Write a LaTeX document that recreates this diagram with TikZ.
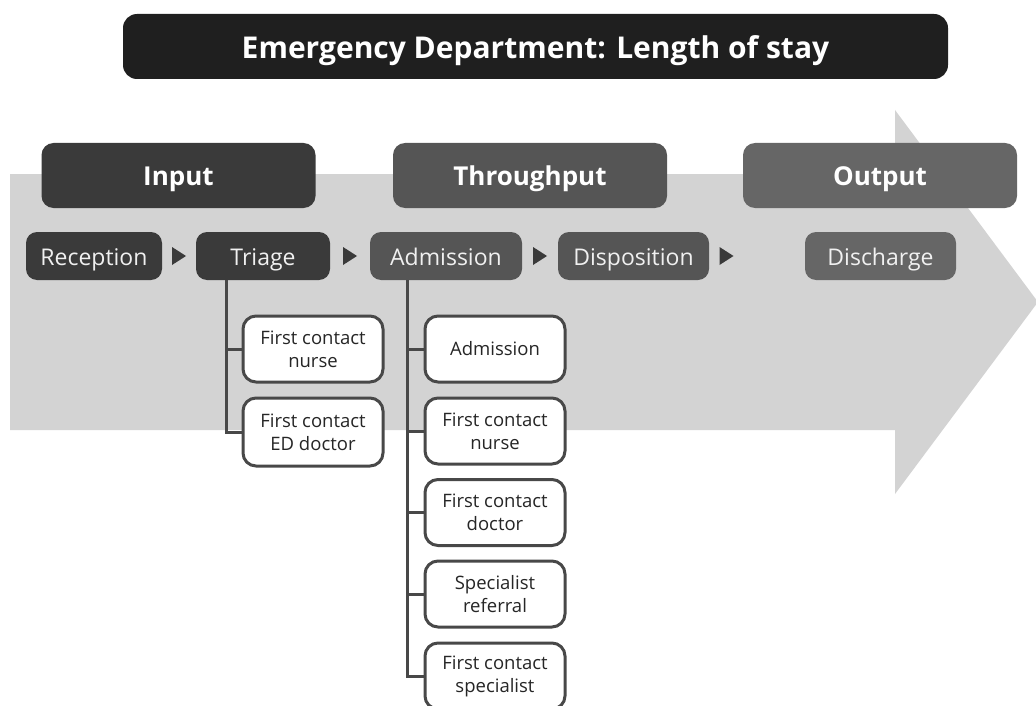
\documentclass[tikz,border=0pt]{standalone}
\usepackage{fontspec}
\setmainfont{Open Sans}
\usetikzlibrary{calc}
\definecolor{arrowgray}{HTML}{D3D3D3}
\definecolor{titlebg}{HTML}{1F1F1F}
\definecolor{darkbox}{HTML}{3A3A3A}
\definecolor{midbox}{HTML}{555555}
\definecolor{lightbox}{HTML}{666666}
\definecolor{linegray}{HTML}{484848}
\tikzset{
  hdr/.style={rounded corners=12pt, inner sep=0pt, text=white,
    font=\fontsize{26}{30}\selectfont\bfseries, text height=19pt, text depth=0pt,
    minimum height=65pt, minimum width=274pt},
  stepbox/.style={rounded corners=11pt, inner sep=0pt, text=white!94!black,
    font=\fontsize{23}{27}\selectfont, text height=18pt, text depth=0pt, minimum height=48pt},
  subbox/.style={draw=linegray, line width=3pt, fill=white, rounded corners=13pt,
    inner sep=0pt, align=center, text=black!85, font=\fontsize{18.5}{23}\selectfont,
    minimum width=140pt, minimum height=66pt},
  conn/.style={draw=linegray, line width=3pt},
}
\begin{document}
\begin{tikzpicture}[x=1pt,y=-1pt]
\useasboundingbox (0,0) rectangle (1036,706);
\clip (0,0) rectangle (1036,706);
% big arrow
\fill[arrowgray] (10,174) -- (895,174) -- (895,110) -- (1038,302) -- (895,494) -- (895,430) -- (10,430) -- cycle;
% title
\node[fill=titlebg, rounded corners=14pt, minimum width=825pt, minimum height=65pt, inner sep=0pt,
  text=white, font=\fontsize{30}{34}\selectfont\bfseries, text height=23.5pt, text depth=0pt] (title) at (535.5,46.5) {Emergency Department: Length of stay};
% headers
\node[hdr, fill=darkbox] (input) at (178.5,175.5) {Input};
\node[hdr, fill=midbox] (through) at (530,175.5) {Throughput};
\node[hdr, fill=lightbox] (output) at (880,175.5) {Output};
% steps
\node[stepbox, fill=darkbox, minimum width=136pt] (reception) at (94,256) {Reception};
\node[stepbox, fill=darkbox, minimum width=134pt] (triage) at (263,256) {Triage};
\node[stepbox, fill=midbox, minimum width=152pt] (admission) at (446,256) {Admission};
\node[stepbox, fill=midbox, minimum width=151pt] (disposition) at (633.5,256) {Disposition};
\node[stepbox, fill=lightbox, minimum width=151pt] (discharge) at (880.5,256) {Discharge};
% triangles
\foreach \a/\b in {reception/triage, triage/admission, admission/disposition} {
  \coordinate (m) at ($(\a.east)!0.5!(\b.west)$);
  \fill[darkbox] ($(m)+(-7,-9)$) -- ($(m)+(7,0)$) -- ($(m)+(-7,9)$) -- cycle;
}
\coordinate (m4) at (726.5,256);
\fill[darkbox] ($(m4)+(-7,-9)$) -- ($(m4)+(7,0)$) -- ($(m4)+(-7,9)$) -- cycle;
% triage sub boxes
\node[subbox] (tnurse) at (313,349) {First contact\\nurse};
\node[subbox, minimum height=68pt] (tdoc) at (313,432) {First contact\\ED doctor};
% admission sub boxes
\node[subbox] (aadm) at (495,349) {Admission};
\node[subbox] (anurse) at (495,431) {First contact\\nurse};
\node[subbox] (adoc) at (495,512.5) {First contact\\doctor};
\node[subbox] (aref) at (495,594) {Specialist\\referral};
\node[subbox] (aspec) at (495,676) {First contact\\specialist};
% connectors triage
\draw[conn] ([xshift=-15pt]tnurse.west |- triage.south) -- ([xshift=-15pt]tdoc.west) -- (tdoc.west);
\draw[conn] ([xshift=-15pt]tnurse.west) -- (tnurse.west);
% connectors admission
\draw[conn] ([xshift=-16pt]aadm.west |- admission.south) -- ([xshift=-16pt]aspec.west) -- (aspec.west);
\foreach \n in {aadm, anurse, adoc, aref} {
  \draw[conn] ([xshift=-16pt]\n.west) -- (\n.west);
}
\end{tikzpicture}
\end{document}
